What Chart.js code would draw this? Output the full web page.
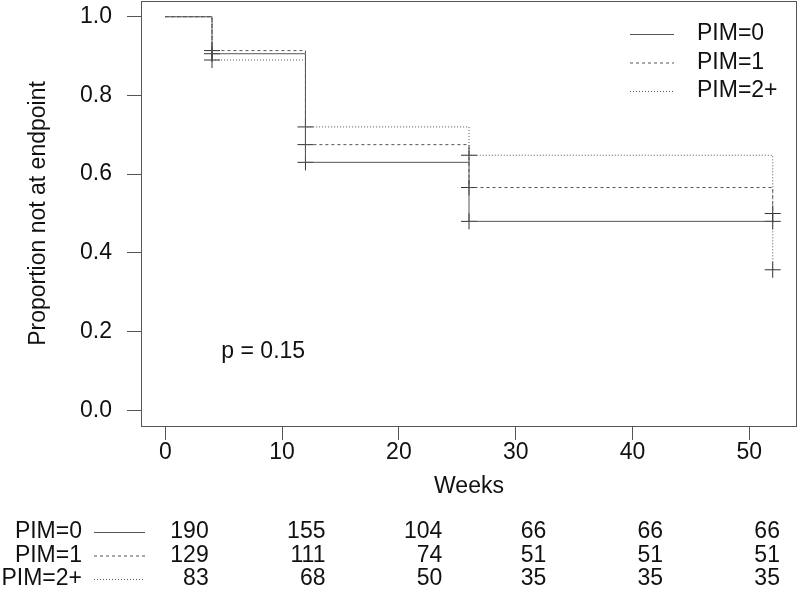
<!DOCTYPE html>
<html>
<head>
<meta charset="utf-8">
<script src="https://cdn.jsdelivr.net/npm/chart.js@4.4.0/dist/chart.umd.min.js"></script>
<style>
  html, body { margin: 0; padding: 0; background: #fff; }
  #wrap { width: 800px; height: 596px; }
</style>
</head>
<body>
<div id="wrap"><canvas id="km" width="800" height="596"></canvas></div>
<script>
// Kaplan-Meier steps (weeks, survival estimate per group)
var weeks = [0, 4, 12, 26, 52];
var pim0 = [1, 0.906, 0.630, 0.480, 0.480];
var pim1 = [1, 0.914, 0.675, 0.566, 0.500];
var pim2 = [1, 0.890, 0.720, 0.648, 0.357];
var groupLabels = ['PIM=0', 'PIM=1', 'PIM=2+'];

// numbers at risk
var riskTimes = [0, 10, 20, 30, 40, 50];
var risk0 = [190, 155, 104, 66, 66, 66];
var risk1 = [129, 111, 74, 51, 51, 51];
var risk2 = [83, 68, 50, 35, 35, 35];

var xTicks = [0, 10, 20, 30, 40, 50];
var yTicks = [0, 0.2, 0.4, 0.6, 0.8, 1.0];
var pText = 'p = 0.15';

var lineColor = '#555';
var dashes = [[], [3, 3], [1, 2]];
var FONT = '"Liberation Sans", Arial, sans-serif';

Chart.defaults.font.family = FONT;
Chart.defaults.font.size = 23;
Chart.defaults.color = '#111';

function curve(vals) {
  return weeks.map(function (w, i) { return {x: w, y: vals[i]}; });
}

var curves = [pim0, pim1, pim2];
var datasets = [];
curves.forEach(function (c, i) {
  datasets.push({
    label: groupLabels[i],
    data: curve(c),
    borderColor: lineColor,
    borderWidth: 1,
    borderDash: dashes[i],
    stepped: true,
    pointRadius: 0,
    fill: false
  });
});
// censoring marks
curves.forEach(function (c, i) {
  datasets.push({
    label: groupLabels[i] + ' censored',
    data: curve(c).slice(1),
    showLine: false,
    pointStyle: 'cross',
    pointRadius: 8,
    pointBorderColor: '#333',
    pointBorderWidth: 1,
    borderColor: '#333'
  });
});

var extras = {
  id: 'extras',
  afterDraw: function (chart) {
    var c = chart.ctx, a = chart.chartArea;
    var xs = chart.scales.x, ys = chart.scales.y;
    c.save();
    // frame
    c.strokeStyle = '#555';
    c.lineWidth = 1;
    c.setLineDash([]);
    c.strokeRect(a.left + 0.5, a.top + 0.5, a.right - a.left - 1, a.bottom - a.top);

    c.font = '23px ' + FONT;
    c.fillStyle = '#111';
    c.textBaseline = 'middle';

    // p value
    c.textAlign = 'left';
    c.fillText(pText, xs.getPixelForValue(4.8), ys.getPixelForValue(0.15));

    // legend
    for (var i = 0; i < 3; i++) {
      var ly = a.top + 33 + i * 28.5;
      c.strokeStyle = lineColor;
      c.setLineDash(dashes[i]);
      c.beginPath();
      c.moveTo(a.right - 167, ly + 0.5);
      c.lineTo(a.right - 123, ly + 0.5);
      c.stroke();
      c.setLineDash([]);
      c.fillText(groupLabels[i], a.right - 100, ly);
    }

    // risk table
    var rows = [risk0, risk1, risk2];
    var colW = riskTimes.map(function (t, j) {
      var m = 0;
      rows.forEach(function (r) { m = Math.max(m, c.measureText(String(r[j])).width); });
      return m;
    });
    rows.forEach(function (r, i) {
      var ry = a.bottom + 106 + i * 23.5;
      c.textAlign = 'right';
      c.fillText(groupLabels[i], 82, ry);
      c.strokeStyle = lineColor;
      c.setLineDash(dashes[i]);
      c.beginPath();
      c.moveTo(94, ry + 0.5);
      c.lineTo(145, ry + 0.5);
      c.stroke();
      c.setLineDash([]);
      r.forEach(function (n, j) {
        var left = xs.getPixelForValue(riskTimes[j]) + 5;
        c.fillText(String(n), left + colW[j], ry);
      });
    });
    c.restore();
  }
};

new Chart(document.getElementById('km').getContext('2d'), {
  type: 'line',
  data: { datasets: datasets },
  plugins: [extras],
  options: {
    responsive: false,
    animation: false,
    layout: { autoPadding: false, padding: { left: 0, top: 1, right: 3, bottom: 95 } },
    plugins: {
      legend: { display: false },
      tooltip: { enabled: false }
    },
    scales: {
      x: {
        type: 'linear',
        min: -2.08,
        max: 54.08,
        afterBuildTicks: function (s) { s.ticks = xTicks.map(function (v) { return {value: v}; }); },
        afterFit: function (s) { s.height = 75; s.paddingLeft = 0; s.paddingRight = 0; },
        grid: { drawOnChartArea: false, drawTicks: true, tickLength: 14, color: '#555' },
        border: { display: false },
        ticks: { padding: -1, maxRotation: 0, autoSkip: false },
        title: { display: true, text: 'Weeks', padding: { top: 0, bottom: 1 } }
      },
      y: {
        type: 'linear',
        min: -0.04,
        max: 1.04,
        afterBuildTicks: function (s) { s.ticks = yTicks.map(function (v) { return {value: v}; }); },
        afterFit: function (s) { s.width = 141; s.paddingTop = 0; s.paddingBottom = 0; },
        grid: { drawOnChartArea: false, drawTicks: true, tickLength: 14, color: '#555' },
        border: { display: false },
        ticks: { padding: 15, callback: function (v) { return v.toFixed(1); } },
        title: { display: true, text: 'Proportion not at endpoint', padding: { top: 25, bottom: 0 } }
      }
    }
  }
});
</script>
</body>
</html>
